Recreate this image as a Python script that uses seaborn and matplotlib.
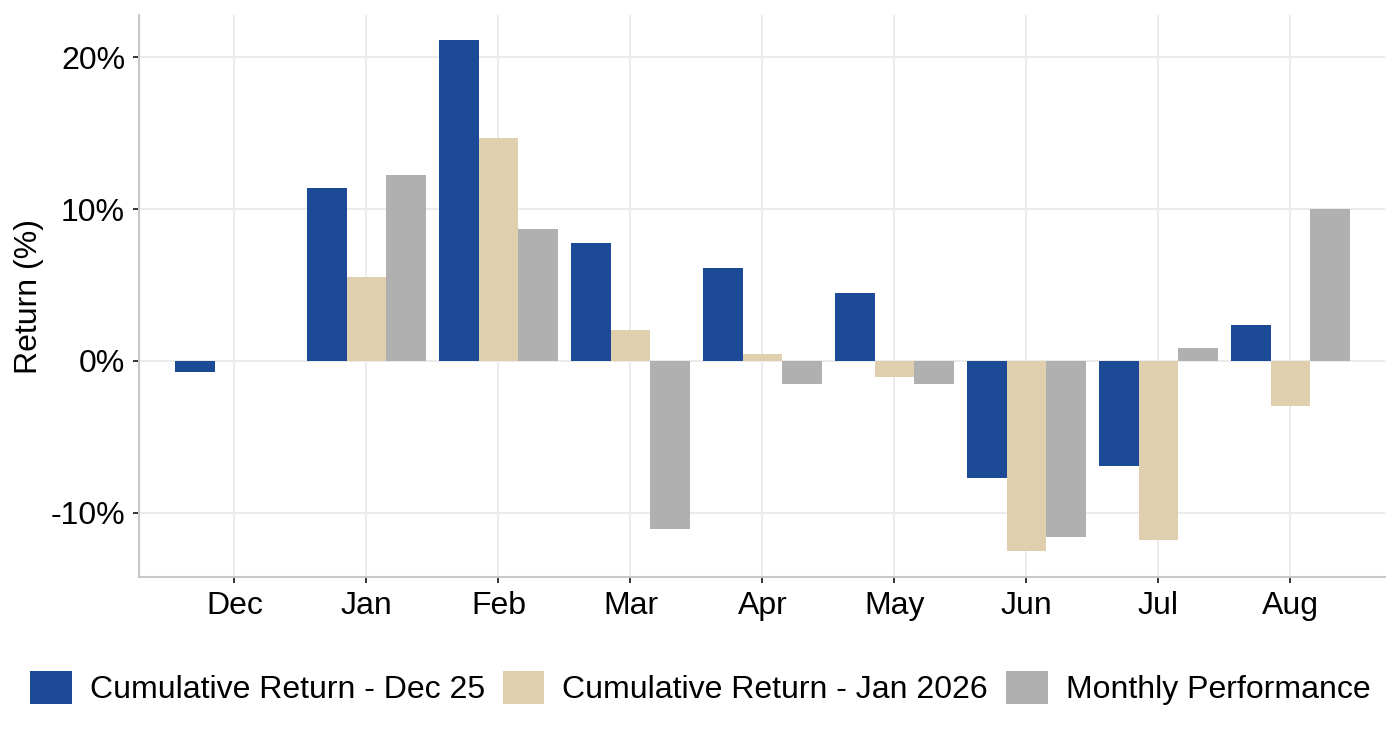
import numpy as np
import pandas as pd
import matplotlib
matplotlib.use("Agg")
import matplotlib.pyplot as plt
import seaborn as sbn
from matplotlib.ticker import FuncFormatter

plt.rcParams['font.family'] = ['Liberation Sans', 'DejaVu Sans']

# data (percent)
months = ['Dec', 'Jan', 'Feb', 'Mar', 'Apr', 'May', 'Jun', 'Jul', 'Aug']
series = ['Cumulative Return - Dec 25', 'Cumulative Return - Jan 2026', 'Monthly Performance']
cum_dec25 = [-0.7, 11.4, 21.15, 7.8, 6.1, 4.5, -7.7, -6.9, 2.4]
cum_jan26 = [np.nan, 5.5, 14.7, 2.05, 0.45, -1.05, -12.55, -11.8, -3.0]
monthly = [np.nan, 12.25, 8.7, -11.05, -1.5, -1.5, -11.6, 0.85, 10.0]
renkler = ['#1D4A97', '#DFCFAE', '#B0B0B0']

df = pd.DataFrame({
    'month': months * 3,
    'series': [series[0]] * 9 + [series[1]] * 9 + [series[2]] * 9,
    'value': cum_dec25 + cum_jan26 + monthly,
})

fs = 23

fig, ax = plt.subplots(figsize=(14, 7.4), dpi=100)
fig.subplots_adjust(left=139/1400, right=1385/1400, top=1-15/740, bottom=1-577/740)

sbn.barplot(data=df, x='month', y='value', hue='series', order=months,
            hue_order=series, palette=renkler, width=0.9, gap=0,
            errorbar=None, saturation=1, linewidth=0, ax=ax)

ax.set_xlim(-0.723, 8.716)
ax.set_ylim(-14.24, 22.8)
ax.set_yticks([-10, 0, 10, 20])
ax.yaxis.set_major_formatter(FuncFormatter(lambda v, p: f'{v:.0f}%'))

ax.grid(True, color='#EBEBEB', lw=1.4)
ax.set_axisbelow(True)
for s in ['top', 'right']:
    ax.spines[s].set_visible(False)
for s in ['left', 'bottom']:
    ax.spines[s].set_color('#C8C8C8')
    ax.spines[s].set_linewidth(1.5)

ax.tick_params(axis='both', length=4, width=1.4, color='#333333',
               labelsize=fs, labelcolor='black', pad=6)
ax.set_xlabel('')
ax.set_ylabel('Return (%)', fontsize=fs)
ax.yaxis.set_label_coords(-0.076, 0.5)

# legend kept fully inside the figure
handles, labels = ax.get_legend_handles_labels()
ax.get_legend().remove()
fig.legend(handles, labels, loc='center', bbox_to_anchor=(0.5, 1-688/740),
           ncol=3, frameon=False, fontsize=fs, borderpad=0, borderaxespad=0,
           handlelength=1.31, handleheight=1.25, handletextpad=0.56,
           columnspacing=0.56)

fig.savefig('out.png', dpi=100)
